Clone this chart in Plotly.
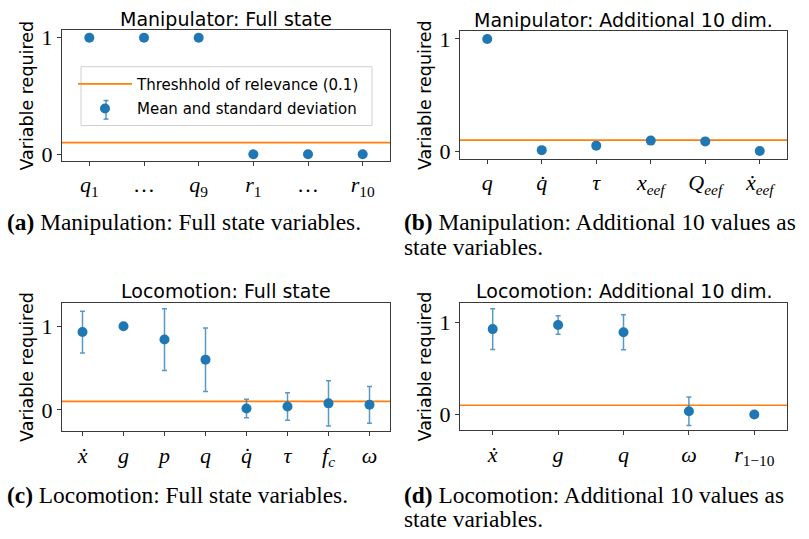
import plotly.graph_objects as go

# Relevance threshold shared by all panels
THRESHOLD = 0.1

# (a) Manipulator, full state
manip_full_labels = ["<i>q</i><sub>1</sub>", "…", "<i>q</i><sub>9</sub>",
                     "<i>r</i><sub>1</sub>", "…", "<i>r</i><sub>10</sub>"]
manip_full_mean = [1.0, 1.0, 1.0, 0.0, 0.0, 0.0]
manip_full_std = [0.0, 0.0, 0.0, 0.0, 0.0, 0.0]

# (b) Manipulator, additional 10 dims
manip_add_labels = ["<i>q</i>", "<i>q\u0307</i>", "<i>τ</i>",
                    "<i>x</i><sub><i>eef</i></sub>", "<i>Q</i><sub><i>eef</i></sub>",
                    "<i>ẋ</i><sub><i>eef</i></sub>"]
manip_add_mean = [1.0, 0.01, 0.05, 0.095, 0.088, 0.003]
manip_add_std = [0.0, 0.005, 0.03, 0.005, 0.005, 0.003]

# (c) Locomotion, full state
loco_full_labels = ["<i>ẋ</i>", "<i>g</i>", "<i>p</i>", "<i>q</i>", "<i>q\u0307</i>",
                    "<i>τ</i>", "<i>f</i><sub><i>c</i></sub>", "<i>ω</i>"]
loco_full_mean = [0.93, 1.0, 0.84, 0.60, 0.015, 0.04, 0.077, 0.06]
loco_full_std = [0.25, 0.0, 0.37, 0.38, 0.11, 0.165, 0.27, 0.22]

# (d) Locomotion, additional 10 dims
loco_add_labels = ["<i>ẋ</i>", "<i>g</i>", "<i>q</i>", "<i>ω</i>", "<i>r</i><sub>1−10</sub>"]
loco_add_mean = [0.925, 0.97, 0.89, 0.035, 0.0]
loco_add_std = [0.22, 0.10, 0.19, 0.155, 0.0]

titles = ["Manipulator: Full state", "Manipulator: Additional 10 dim.",
          "Locomotion: Full state", "Locomotion: Additional 10 dim."]

panels = [
    (manip_full_labels, manip_full_mean, manip_full_std, [-0.055, 1.062]),
    (manip_add_labels, manip_add_mean, manip_add_std, [-0.067, 1.067]),
    (loco_full_labels, loco_full_mean, loco_full_std, [-0.255, 1.28]),
    (loco_add_labels, loco_add_mean, loco_add_std, [-0.17, 1.21]),
]

W, H = 809, 539
# panel boxes in pixels: left, right, top, bottom
boxes = [(62, 390, 26, 159), (460, 787, 27, 157),
         (62, 390, 304, 435), (460, 787, 304, 434)]

BLUE = "#1f77b4"
ORANGE = "#ff7f0e"
ERR = "rgba(31,119,180,0.75)"
SANS = "DejaVu Sans"
SERIF = "Liberation Serif"

fig = go.Figure()
layout = {}
annotations = []

for i, ((labels, mean, std, yr), (l, r, t, b)) in enumerate(zip(panels, boxes)):
    k = "" if i == 0 else str(i + 1)
    xa, ya = "x" + k, "y" + k
    n = len(labels)
    xs = list(range(n))
    xr = [-0.5, n - 0.5]

    fig.add_trace(go.Scatter(
        x=xr, y=[THRESHOLD, THRESHOLD], mode="lines",
        line=dict(color=ORANGE, width=1.7),
        name="Threshhold of relevance (0.1)", showlegend=(i == 0),
        legendgroup="thr", xaxis=xa, yaxis=ya, hoverinfo="skip"))
    fig.add_trace(go.Scatter(
        x=xs, y=mean, mode="markers",
        marker=dict(color=BLUE, size=10),
        error_y=dict(type="data", array=std, visible=True,
                     color=ERR, thickness=1.5, width=2.5),
        name="Mean and standard deviation", showlegend=(i == 0),
        legendgroup="mean", xaxis=xa, yaxis=ya))

    axis_common = dict(showline=True, mirror=True, linecolor="#3a3a3a", linewidth=1,
                       ticks="outside", ticklen=4, tickcolor="#3a3a3a",
                       showgrid=False, zeroline=False,
                       tickfont=dict(family=SERIF, size=22, color="black"))
    layout["xaxis" + k] = dict(domain=[l / W, r / W], range=xr, anchor=ya,
                               tickmode="array", tickvals=xs, ticktext=labels,
                               **axis_common)
    layout["yaxis" + k] = dict(domain=[1 - b / H, 1 - t / H], range=yr, anchor=xa,
                               tickmode="array", tickvals=[0, 1], ticktext=["0", "1"],
                               **axis_common)

    # panel title
    annotations.append(dict(text=titles[i], xref="paper", yref="paper",
                            x=(l + r) / 2 / W, y=1 - (t - 12) / H,
                            xanchor="center", yanchor="middle", showarrow=False,
                            font=dict(family=SANS, size=19, color="black")))
    # y-axis label
    annotations.append(dict(text="Variable required", xref="paper", yref="paper",
                            x=(l - 35) / W, y=1 - (t + b) / 2 / H, textangle=-90,
                            xanchor="center", yanchor="middle", showarrow=False,
                            font=dict(family=SANS, size=17.5, color="black")))

# sub-figure captions
captions = [
    ("<b>(a)</b> Manipulation: Full state variables.", 5, 222),
    ("<b>(b)</b> Manipulation: Additional 10 values as", 402, 222),
    ("state variables.", 402, 247),
    ("<b>(c)</b> Locomotion: Full state variables.", 5, 500),
    ("<b>(d)</b> Locomotion: Additional 10 values as", 402, 500),
    ("state variables.", 402, 525),
]
for text, x, y in captions:
    annotations.append(dict(text=text, xref="paper", yref="paper",
                            x=x / W, y=1 - y / H, xanchor="left", yanchor="middle",
                            showarrow=False,
                            font=dict(family=SERIF, size=23.4, color="black")))

# legend frame and the error-bar glyph behind the legend marker
LEG_L, LEG_R, LEG_T, LEG_B = 81, 372, 63, 123
GX, GY, GH, GC = 106, 107, 9.5, 2.5
shapes = [
    dict(type="rect", xref="paper", yref="paper",
         x0=LEG_L / W, x1=LEG_R / W, y0=1 - LEG_B / H, y1=1 - LEG_T / H,
         line=dict(color="#d0d0d0", width=1), fillcolor="rgba(255,255,255,0.85)",
         layer="above"),
    dict(type="line", xref="paper", yref="paper",
         x0=GX / W, x1=GX / W, y0=1 - (GY - GH) / H, y1=1 - (GY + GH) / H,
         line=dict(color=ERR, width=1.5), layer="above"),
    dict(type="line", xref="paper", yref="paper",
         x0=(GX - GC) / W, x1=(GX + GC) / W, y0=1 - (GY - GH) / H, y1=1 - (GY - GH) / H,
         line=dict(color=ERR, width=1.5), layer="above"),
    dict(type="line", xref="paper", yref="paper",
         x0=(GX - GC) / W, x1=(GX + GC) / W, y0=1 - (GY + GH) / H, y1=1 - (GY + GH) / H,
         line=dict(color=ERR, width=1.5), layer="above"),
]

fig.update_layout(
    width=W, height=H, margin=dict(l=0, r=0, t=0, b=0),
    paper_bgcolor="white", plot_bgcolor="white",
    annotations=annotations, shapes=shapes,
    showlegend=True,
    legend=dict(x=73 / W, y=1 - (LEG_T + 1) / H, xanchor="left", yanchor="top",
                bgcolor="rgba(0,0,0,0)", borderwidth=0,
                font=dict(family=SANS, size=15, color="black"),
                tracegroupgap=2, traceorder="grouped", itemwidth=54),
    **layout,
)

fig.write_html("out.html")
